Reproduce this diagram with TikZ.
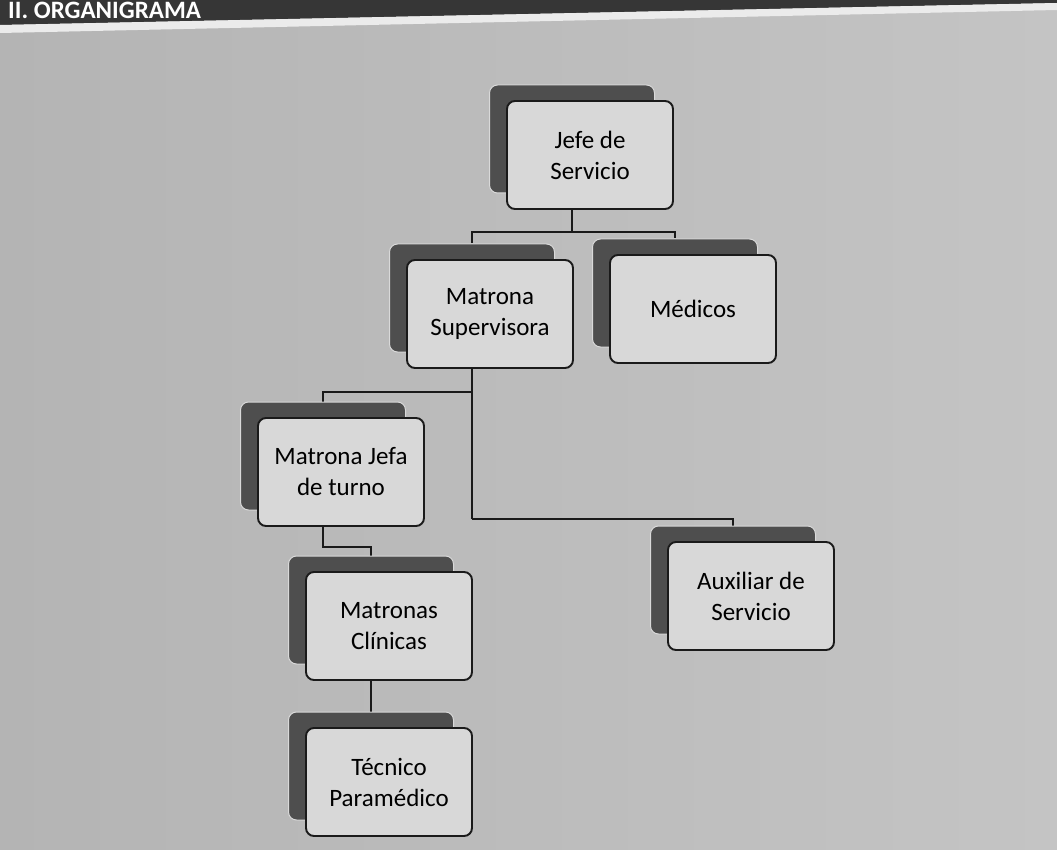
\documentclass[tikz,border=0pt]{standalone}
\usepackage{fontspec}
\setmainfont{Carlito}
\usetikzlibrary{backgrounds}
\definecolor{fondoizq}{HTML}{B4B4B4}
\definecolor{fondomed}{HTML}{CBCBCB}
\definecolor{fondoder}{HTML}{C4C4C4}
\definecolor{sombrax}{HTML}{4E4E4E}
\definecolor{tarjetax}{HTML}{D8D8D8}
\definecolor{bordex}{HTML}{1A1A1A}
\definecolor{franja}{HTML}{363636}
\tikzset{
  sombra/.style={draw=white!85!black,line width=1pt,rounded corners=8pt,fill=sombrax,minimum width=165pt,minimum height=108pt,inner sep=0pt},
  tarjeta/.style={draw=bordex,line width=1.9pt,rounded corners=8pt,fill=tarjetax,minimum width=166pt,minimum height=108pt,align=center,inner sep=2pt,text=black,font=\fontsize{25}{31}\selectfont},
  enlace/.style={draw=bordex,line width=1.9pt}
}
\newcommand{\puesto}[4]{%
  \node[sombra] (#1s) at (#2,#3) {};
  \node[tarjeta] (#1) at (#2+18,#3+16) {#4};}

\begin{document}
\begin{tikzpicture}[x=1pt,y=-1pt]
\useasboundingbox (0,0) rectangle (1057,850);
\clip (0,0) rectangle (1057,850);
\puesto{jefe}{572}{139}{Jefe de\\Servicio}
\puesto{sup}{472}{298}{Matrona\\Supervisora}
\puesto{med}{675}{293}{Médicos}
\puesto{jefa}{323}{456}{Matrona Jefa\\de turno}
\puesto{clin}{371}{610}{Matronas\\Clínicas}
\puesto{aux}{733}{580}{Auxiliar de\\Servicio}
\puesto{tec}{371}{766}{Técnico\\Paramédico}
\coordinate (bus1) at (572,232);
\coordinate (bus2) at (472,392);
\coordinate (bus3) at (472,519);
\coordinate (bus4) at (0,547);
\begin{pgfonlayer}{background}
% fondo y cabecera
\shade[left color=fondoizq,middle color=fondomed,right color=fondoder] (0,0) rectangle (1057,850);
\fill[franja] (0,0)--(1057,0)--(1057,3)--(0,25)--cycle;
\fill[white!92!black] (0,25)--(1057,3)--(1057,10)--(0,33)--cycle;
\node[anchor=base west,text=white,font=\bfseries\fontsize{25}{25}\selectfont,inner sep=0pt] (titulo) at (8,19) {II. ORGANIGRAMA};
% enlaces
\draw[enlace] (jefes.south) -- (bus1);
\draw[enlace] (sups.north) |- (bus1) -| (meds.north);
\draw[enlace] (sups.south) -- (bus3);
\draw[enlace] (jefas.north) |- (bus2);
\draw[enlace] (bus3) -| (auxs.north);
\draw[enlace] (jefas.south) -- (jefas.south |- bus4) -| (clins.north);
\draw[enlace] (clins.south) -- (tecs.north);
\end{pgfonlayer}
\end{tikzpicture}
\end{document}
